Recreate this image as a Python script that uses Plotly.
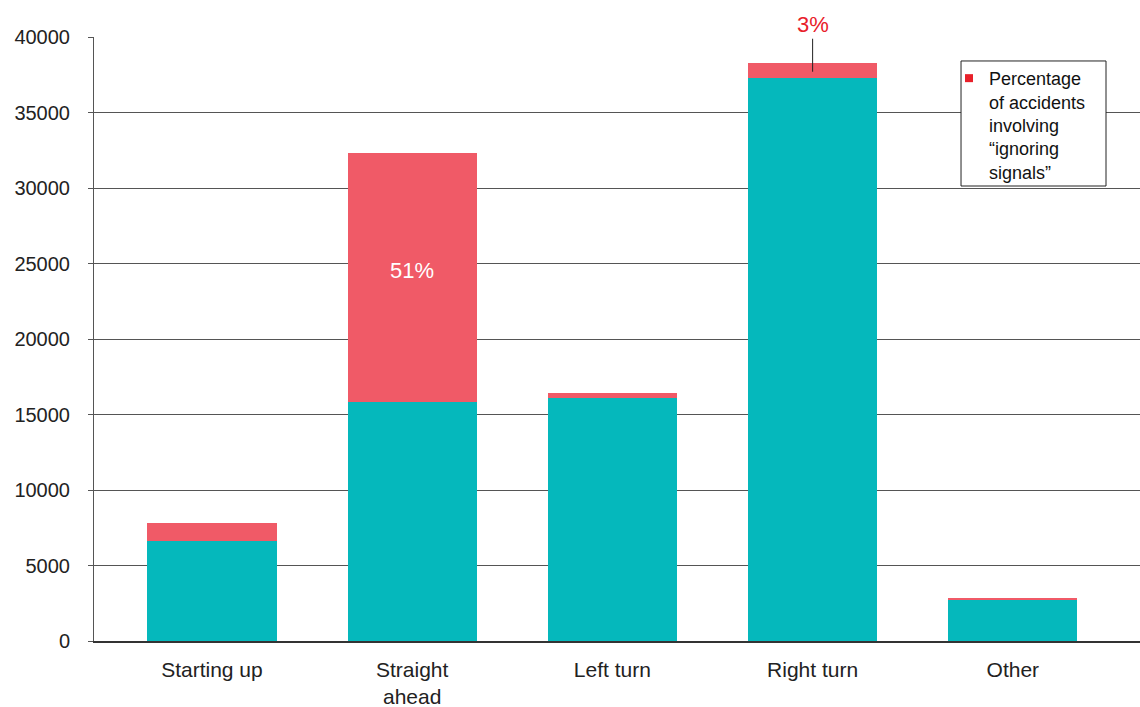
import plotly.graph_objects as go

# Accidents by vehicle manoeuvre, split by whether "ignoring signals" was involved
categories = ["Starting up", "Straight<br>ahead", "Left turn", "Right turn", "Other"]
other_accidents = [6600, 15800, 16100, 37300, 2750]
ignoring_signals = [1200, 16500, 300, 1000, 60]

TEAL = "#05b8bc"
RED = "#f05a67"
FONT = "Liberation Sans, Arial, sans-serif"

fig = go.Figure()
fig.add_trace(go.Bar(
    x=categories, y=other_accidents, marker=dict(color=TEAL, line_width=0),
    width=0.645, showlegend=False,
))
fig.add_trace(go.Bar(
    x=categories, y=ignoring_signals, marker=dict(color=RED, line_width=0),
    width=0.645, showlegend=False,
))
# legend entry for the highlighted share
fig.add_trace(go.Scatter(
    x=[None], y=[None], mode="markers",
    marker=dict(symbol="square", size=8, color="#e8202a"),
    name="Percentage<br>of accidents<br>involving<br>“ignoring<br>signals”",
))

# share label inside the "Straight ahead" bar
fig.add_annotation(
    x=categories[1], y=other_accidents[1] + ignoring_signals[1] * 0.53,
    text="51%", showarrow=False, font=dict(family=FONT, size=22, color="white"),
)
# callout for the thin "Right turn" segment
fig.add_annotation(
    x=categories[3], y=other_accidents[3] + ignoring_signals[3] * 0.4,
    text="3%", showarrow=True, arrowhead=0, arrowwidth=1, arrowcolor="#222",
    ax=0, ay=-47, standoff=0, startstandoff=0,
    font=dict(family=FONT, size=22, color="#e8202a"),
)

# white framed panel behind the legend
fig.add_shape(
    type="rect", xref="paper", yref="paper",
    x0=0.8289, x1=0.9675, y0=0.7533, y1=0.9603,
    line=dict(color="#222", width=1), fillcolor="white", layer="above",
)

fig.update_layout(
    width=1140, height=707,
    margin=dict(l=94, r=0, t=37, b=66, autoexpand=False),
    barmode="stack",
    plot_bgcolor="white", paper_bgcolor="white",
    font=dict(family=FONT, size=20, color="#222"),
    legend=dict(
        x=0.8174, y=0.962, xanchor="left", yanchor="top",
        borderwidth=0, bgcolor="rgba(0,0,0,0)",
        font=dict(family=FONT, size=18, color="#111"),
        valign="top", itemwidth=30, tracegroupgap=0,
    ),
    showlegend=True,
)
fig.update_xaxes(
    range=[-0.589, 4.635], showgrid=False, automargin=False,
    showline=True, linecolor="#333", linewidth=1.5,
    ticks="", ticklabelstandoff=9,
    tickfont=dict(family=FONT, size=21, color="#222"),
)
fig.update_yaxes(
    range=[0, 40000], dtick=5000, tickformat="d", automargin=False,
    showgrid=True, gridcolor="#555", gridwidth=1,
    showline=True, linecolor="#555", linewidth=1,
    ticks="outside", ticklen=5, tickcolor="#555", ticklabelstandoff=14,
    tickfont=dict(family=FONT, size=20, color="#222"),
    zeroline=False,
)

fig.write_html("out.html")
